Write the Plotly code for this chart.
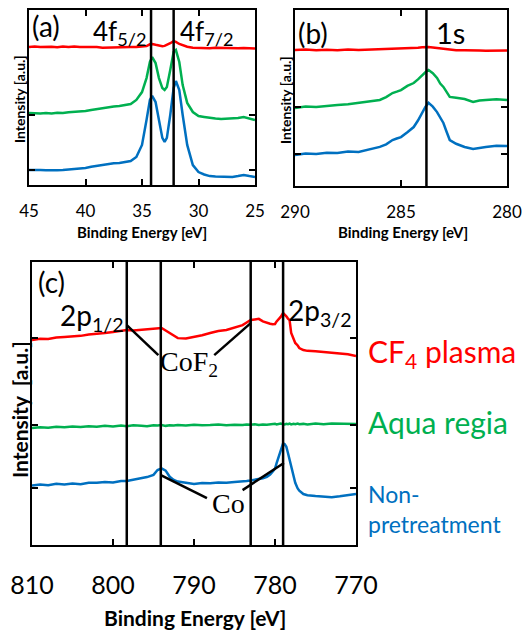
import plotly.graph_objects as go

# ---------------- DATA ----------------
# Panel (a): 4f region
xa = [45, 44.5, 44, 43.5, 43, 42.5, 42, 41.5, 41, 40.5, 40, 39.5, 39, 38.5, 38, 37.5, 37, 36.5, 36,
      35.5, 35, 34.6, 34.3, 34.1, 33.8, 33.5, 33.2, 33.0, 32.8, 32.5, 32.2, 32.0, 31.7, 31.4, 31.0,
      30.5, 30, 29.5, 29, 28.5, 28, 27.5, 27, 26.5, 26, 25.5, 25]
a_red = [78.9, 79.2, 78.8, 79.1, 79.0, 78.7, 79.1, 78.9, 79.2, 78.8, 78.9, 78.6, 78.8, 78.5, 78.6, 78.9, 78.7, 79.0, 78.9,
         78.8, 79.0, 79.4, 80.4, 80.6, 80.1, 79.6, 79.3, 79.5, 80.0, 81.0, 82.2, 81.8, 80.6, 79.8, 79.0,
         78.5, 78.3, 78.5, 78.2, 78.4, 78.3, 78.1, 78.3, 78.2, 78.3, 78.0, 78.0]
a_green = [41.1, 40.8, 40.9, 41.2, 40.9, 41.3, 41.1, 41.6, 41.7, 42.1, 42.3, 42.9, 43.4, 44.2, 44.6, 44.9, 45.1, 45.8, 46.3,
           48.6, 53.1, 61.1, 70.3, 73.1, 69.7, 61.1, 55.4, 54.3, 56.0, 65.7, 76.0, 77.1, 70.3, 57.1, 46.9,
           41.7, 39.4, 38.9, 38.3, 38.0, 37.7, 37.9, 37.7, 38.3, 38.9, 38.0, 37.1]
a_blue = [8.6, 8.8, 8.6, 8.4, 8.3, 8.5, 8.6, 8.8, 8.9, 9.3, 9.7, 10.4, 10.9, 11.6, 12.0, 12.4, 12.6, 13.1, 13.7,
          16.0, 22.9, 37.1, 48.6, 50.9, 47.4, 37.1, 26.9, 24.6, 26.9, 40.0, 55.4, 59.4, 54.3, 40.0, 22.9,
          11.4, 7.4, 6.0, 5.1, 4.8, 4.6, 4.7, 4.6, 5.1, 5.7, 5.1, 4.6]

# Panel (b): 1s region
xb = [290, 289.5, 289, 288.5, 288, 287.5, 287, 286.5, 286, 285.7, 285.4, 285.2, 285, 284.7, 284.4, 284.2,
      284, 283.85, 283.7, 283.5, 283.3, 283.15, 283, 282.85, 282.7, 282.4, 282, 281.6, 281.3, 281, 280.5, 280]
b_red = [77.3, 77.5, 77.1, 77.4, 77.2, 77.6, 77.3, 77.5, 77.6, 77.8, 77.7, 78.0, 77.9, 78.2, 78.3, 78.6,
         78.8, 79.0, 79.0, 78.7, 78.4, 78.1, 77.9, 77.7, 77.5, 77.2, 77.1, 76.8, 77.0, 76.9, 77.1, 77.0]
b_green = [44.3, 45.1, 44.9, 45.6, 46.0, 46.4, 47.2, 47.9, 48.9, 50.5, 52.8, 53.6, 54.5, 56.9, 58.5, 60.6,
           63.1, 64.6, 65.9, 64.1, 61.4, 58.2, 56.3, 53.5, 50.6, 50.1, 49.4, 47.7, 48.6, 48.9, 49.3, 48.9]
b_blue = [17.6, 18.4, 18.2, 18.9, 18.8, 19.6, 19.3, 20.8, 22.2, 23.7, 26.1, 27.0, 27.8, 30.5, 33.5, 37.2,
          41.5, 44.9, 47.2, 45.1, 42.0, 38.9, 35.8, 30.8, 26.1, 24.0, 22.2, 21.0, 21.8, 22.2, 22.9, 22.7]

# Panel (c): 2p region
xc = [810, 809, 808, 807, 806, 805, 804, 803, 802, 801, 800, 799, 798.3, 797.5, 796.5, 795.8, 795, 794.5, 794,
      793.5, 793, 792.5, 792, 791, 790, 789, 788, 787, 786, 785, 784, 783.5, 783, 782.5, 782, 781.5, 781,
      780.6, 780.3, 780, 779.8, 779.5, 779.3, 779, 778.8, 778.6, 778.4, 778.2, 778, 777.7, 777.5, 777.2, 777,
      776.5, 776, 775, 774, 773, 772, 771, 770]
c_red = [72.4, 72.9, 72.8, 73.3, 73.5, 73.6, 73.9, 74.4, 74.6, 74.9, 75.3, 75.7, 76.0, 75.8, 76.0, 76.4, 76.3, 76.5, 76.7,
         75.8, 74.9, 74.0, 73.1, 73.0, 73.5, 74.1, 74.9, 75.6, 76.0, 76.9, 77.7, 78.6, 79.5, 79.7, 79.9, 79.0, 78.4,
         78.2, 78.0, 78.1, 79.0, 79.8, 80.6, 82.0, 81.5, 80.8, 80.0, 79.5, 74.9, 73.0, 71.4, 70.5, 69.6,
         68.9, 68.6, 68.5, 68.2, 68.0, 67.8, 67.4, 66.8]
c_green = [41.3, 41.6, 41.4, 41.8, 41.6, 41.9, 41.7, 42.0, 41.8, 42.1, 41.9, 42.2, 42.0, 42.3, 42.1, 42.0, 42.3, 42.2, 42.4,
           42.1, 42.3, 42.2, 42.4, 42.2, 42.5, 42.3, 42.4, 42.6, 42.3, 42.5, 42.4, 42.6, 42.5, 42.7, 42.4, 42.6, 42.5,
           42.7, 42.6, 42.8, 42.6, 42.7, 42.9, 42.7, 42.6, 42.8, 42.7, 42.9, 42.6, 42.8, 42.7, 42.9, 42.7,
           42.8, 42.6, 42.9, 42.7, 42.9, 42.8, 42.7, 42.8]
c_blue = [21.0, 21.4, 21.1, 21.6, 21.4, 21.7, 21.5, 22.0, 22.0, 22.3, 22.1, 22.6, 22.6, 23.0, 23.6, 24.0, 24.8, 26.5, 27.1,
          26.3, 24.1, 23.0, 22.4, 21.9, 21.6, 21.9, 21.8, 22.1, 22.0, 22.3, 22.4, 22.6, 22.8, 23.0, 23.2, 23.6, 24.1,
          24.9, 25.9, 27.0, 28.9, 31.5, 33.6, 35.9, 35.6, 34.7, 32.5, 30.0, 27.5, 24.1, 22.0, 20.0, 19.2,
          18.0, 17.6, 17.3, 17.0, 16.9, 17.2, 17.7, 18.0]

# reference lines
lines_a = [34.2, 32.2]
lines_b = [283.8]
lines_c = [798.3, 794.1, 783.0, 779.0]

ticks_a = [45, 40, 35, 30, 25]
ticks_b = [290, 285, 280]
ticks_c = [810, 800, 790, 780, 770]

RED = "#FF0000"
GREEN = "#00B050"
BLUE = "#0070C0"
FONT = "Lato"

fig = go.Figure()
for xs, ys, col, xa_, ya_ in [
    (xa, a_red, RED, "x", "y"), (xa, a_green, GREEN, "x", "y"), (xa, a_blue, BLUE, "x", "y"),
    (xb, b_red, RED, "x2", "y2"), (xb, b_green, GREEN, "x2", "y2"), (xb, b_blue, BLUE, "x2", "y2"),
    (xc, c_red, RED, "x3", "y3"), (xc, c_green, GREEN, "x3", "y3"), (xc, c_blue, BLUE, "x3", "y3"),
]:
    fig.add_trace(go.Scatter(x=xs, y=ys, mode="lines", line=dict(color=col, width=2.5),
                             xaxis=xa_, yaxis=ya_, showlegend=False, hoverinfo="skip"))

W, H = 523, 637


def px2x(p):
    return p / W


def px2y(p):
    return 1 - p / H


common = dict(showline=True, mirror="allticks", linecolor="black", linewidth=2, showgrid=False,
              zeroline=False, ticks="inside", tickwidth=2, ticklen=6, tickcolor="black",
              automargin=False)

fig.update_layout(
    width=W, height=H, margin=dict(l=0, r=0, t=0, b=0, autoexpand=False),
    paper_bgcolor="white", plot_bgcolor="white",
    font=dict(family=FONT, color="black"),
    xaxis=dict(common, domain=[px2x(29), px2x(255)], range=[45, 25], anchor="y",
               tickvals=ticks_a, ticklabelstandoff=10, tickfont=dict(size=17, family=FONT)),
    yaxis=dict(common, domain=[px2y(185), px2y(10)], range=[0, 100], anchor="x",
               tickvals=[8.6, 40], showticklabels=False),
    xaxis2=dict(common, domain=[px2x(295), px2x(507)], range=[290, 280], anchor="y2",
                tickvals=ticks_b, ticklabelstandoff=10, tickfont=dict(size=17, family=FONT)),
    yaxis2=dict(common, domain=[px2y(186), px2y(10)], range=[0, 100], anchor="x2",
                tickvals=[18, 45], showticklabels=False),
    xaxis3=dict(common, domain=[px2x(32), px2x(356)], range=[810, 770], anchor="y3",
                tickvals=ticks_c, ticklabelstandoff=17, tickfont=dict(size=25, family=FONT)),
    yaxis3=dict(common, domain=[px2y(545), px2y(262)], range=[0, 100], anchor="x3",
                tickvals=[20.1, 42.4, 73.1], showticklabels=False),
)

shapes = []
for v in lines_a:
    shapes.append(dict(type="line", xref="x", yref="y domain", x0=v, x1=v, y0=0, y1=1,
                       line=dict(color="black", width=2.5)))
for v in lines_b:
    shapes.append(dict(type="line", xref="x2", yref="y2 domain", x0=v, x1=v, y0=0, y1=1,
                       line=dict(color="black", width=2.5)))
for v in lines_c:
    shapes.append(dict(type="line", xref="x3", yref="y3 domain", x0=v, x1=v, y0=0, y1=1,
                       line=dict(color="black", width=2.5)))
# connector lines (data coordinates of panel c)
for x0, y0, x1, y1 in [(798.3, 77.7, 794.4, 67.1), (787.5, 67.1, 783.0, 78.4),
                       (794.1, 24.7, 788.4, 16.6), (784.0, 19.4, 778.9, 29.0)]:
    shapes.append(dict(type="line", xref="x3", yref="y3", x0=x0, y0=y0, x1=x1, y1=y1,
                       line=dict(color="black", width=2.5)))
fig.update_layout(shapes=shapes)

ann = []


def A(**k):
    d = dict(showarrow=False)
    d.update(k)
    ann.append(d)


# panel labels
A(text="(a)", xref="paper", yref="paper", x=px2x(30), y=px2y(26), xanchor="left", yanchor="middle",
  font=dict(size=28, family=FONT))
A(text="(b)", xref="paper", yref="paper", x=px2x(296), y=px2y(33), xanchor="left", yanchor="middle",
  font=dict(size=28, family=FONT))
A(text="(c)", xref="paper", yref="paper", x=px2x(36), y=px2y(282), xanchor="left", yanchor="middle",
  font=dict(size=28, family=FONT))
# peak labels
A(text="4f<sub>5/2</sub>", xref="x", yref="y domain", x=34.35, y=0.87, xanchor="right", yanchor="middle",
  font=dict(size=26, family=FONT))
A(text="4f<sub>7/2</sub>", xref="x", yref="y domain", x=31.8, y=0.87, xanchor="left", yanchor="middle",
  font=dict(size=26, family=FONT))
A(text="1s", xref="x2", yref="y2 domain", x=283.45, y=0.87, xanchor="left", yanchor="middle",
  font=dict(size=29, family=FONT))
A(text="2p<sub>1/2</sub>", xref="x3", yref="y3", x=798.4, y=80.6, xanchor="right", yanchor="middle",
  font=dict(size=28, family=FONT))
A(text="2p<sub>3/2</sub>", xref="x3", yref="y3", x=778.6, y=82.3, xanchor="left", yanchor="middle",
  font=dict(size=28, family=FONT))
A(text="CoF<sub>2</sub>", xref="x3", yref="y3", x=790.6, y=64.0, xanchor="center", yanchor="middle",
  font=dict(size=28, family="Liberation Serif"))
A(text="Co", xref="x3", yref="y3", x=785.8, y=14.8, xanchor="center", yanchor="middle",
  font=dict(size=28, family="Liberation Serif"))
# series labels
A(text="CF<sub>4</sub> plasma", xref="paper", yref="y3", x=px2x(366), y=67.8, xanchor="left",
  yanchor="middle", font=dict(size=30, family=FONT, color=RED))
A(text="Aqua regia", xref="paper", yref="y3", x=px2x(366), y=43.5, xanchor="left",
  yanchor="middle", font=dict(size=30, family=FONT, color=GREEN))
A(text="Non-<br>pretreatment", xref="paper", yref="y3", x=px2x(366), y=12.7, xanchor="left",
  yanchor="middle", align="left", font=dict(size=23, family=FONT, color=BLUE))
# axis titles
A(text="<b>Binding Energy [eV]</b>", xref="paper", yref="paper", x=px2x(142), y=px2y(232),
  xanchor="center", yanchor="middle", font=dict(size=15, family=FONT))
A(text="<b>Binding Energy [eV]</b>", xref="paper", yref="paper", x=px2x(403), y=px2y(232),
  xanchor="center", yanchor="middle", font=dict(size=15, family=FONT))
A(text="<b>Binding Energy [eV]</b>", xref="paper", yref="paper", x=px2x(195), y=px2y(617),
  xanchor="center", yanchor="middle", font=dict(size=21, family=FONT))
A(text="<b>Intensity [a.u.]</b>", xref="paper", yref="paper", x=px2x(19), y=px2y(99),
  xanchor="center", yanchor="middle", textangle=-90, font=dict(size=14, family=FONT))
A(text="<b>Intensity [a.u.]</b>", xref="paper", yref="paper", x=px2x(285), y=px2y(100),
  xanchor="center", yanchor="middle", textangle=-90, font=dict(size=14, family=FONT))
A(text="<b>Intensity\u00a0\u00a0[a.u.]</b>", xref="paper", yref="paper", x=px2x(19), y=px2y(410),
  xanchor="center", yanchor="middle", textangle=-90, font=dict(size=21, family=FONT))
fig.update_layout(annotations=ann)

fig.write_html("out.html")
